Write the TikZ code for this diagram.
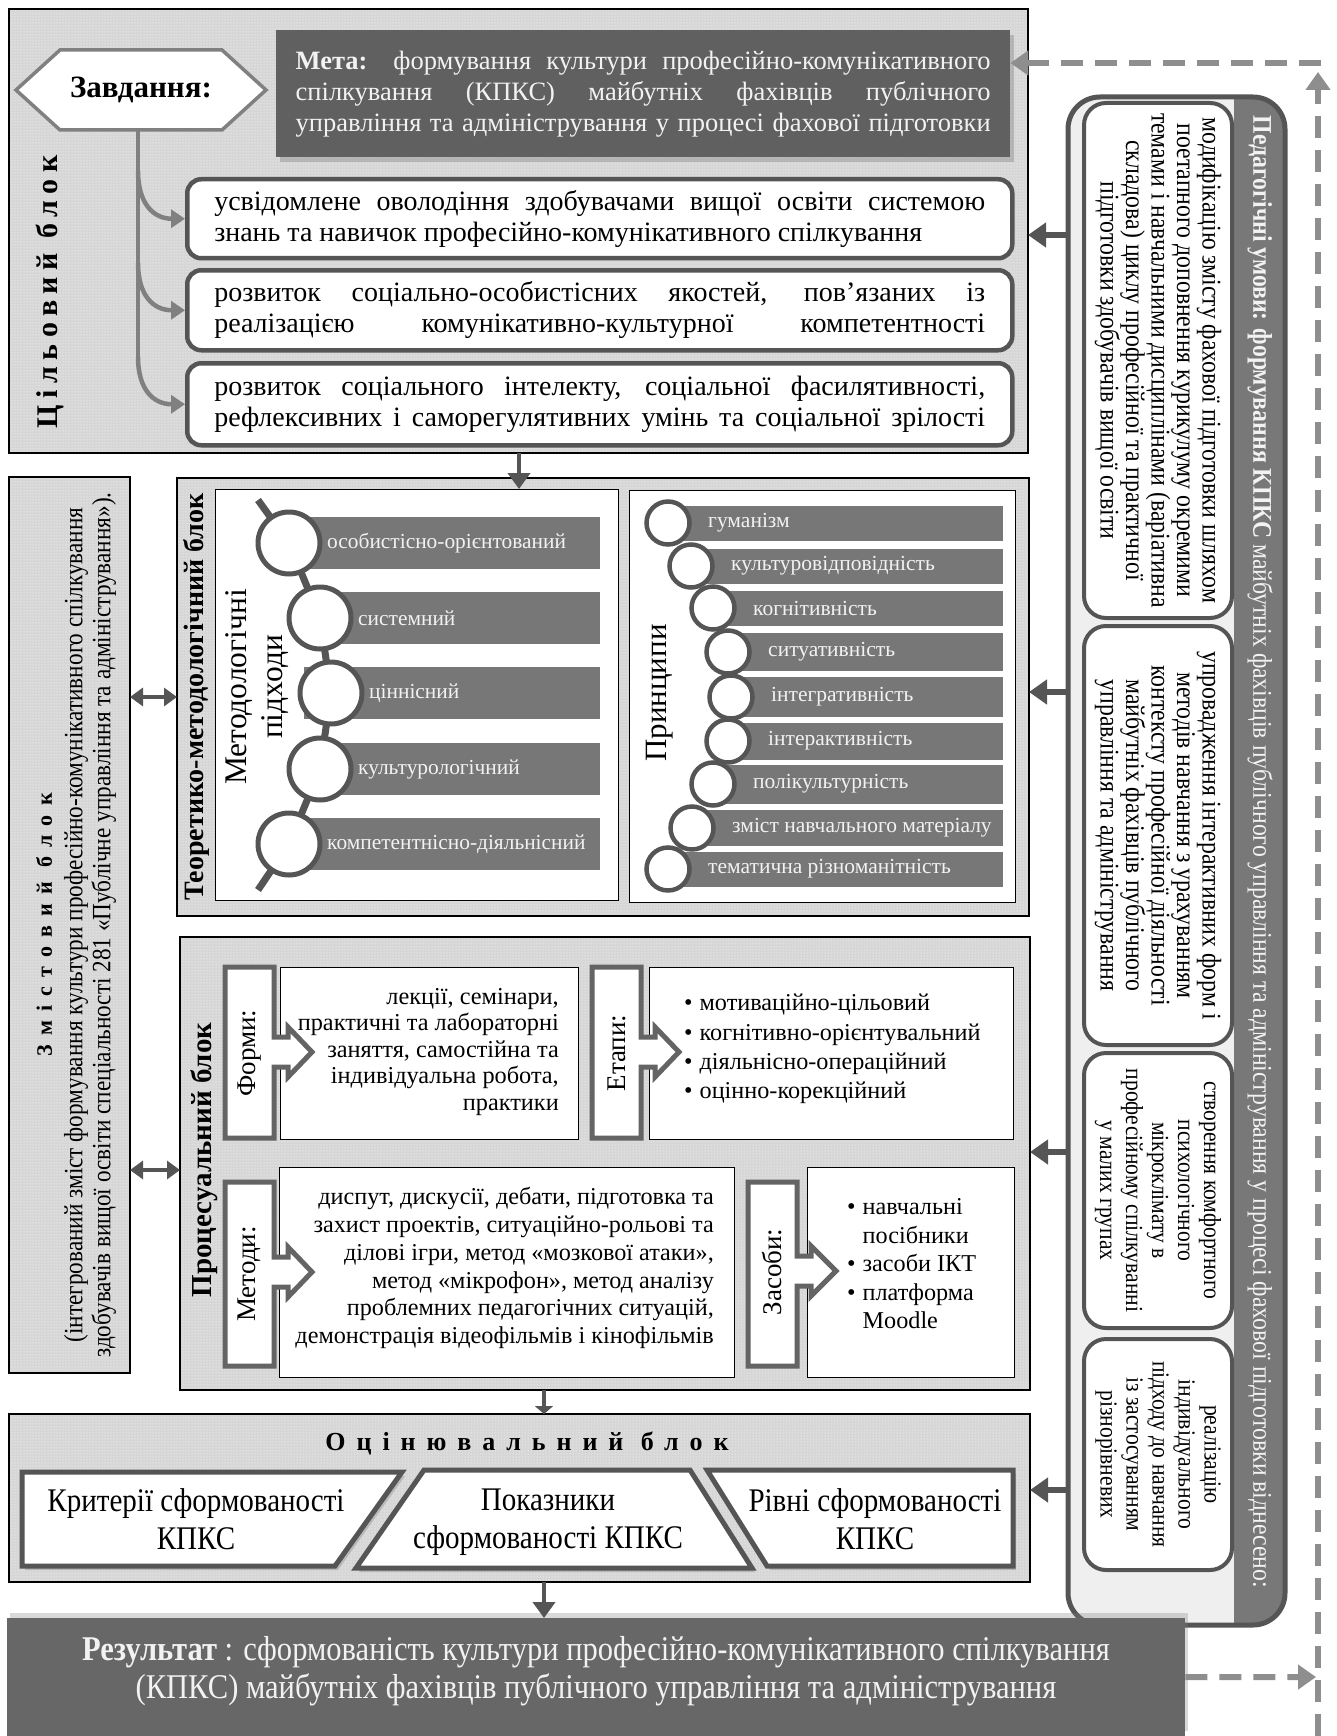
\documentclass[tikz,border=0pt]{standalone}
\usepackage{fontspec}
\setmainfont{Liberation Serif}
\newfontfamily\condfont{Liberation Serif}[FakeStretch=0.88]
\usetikzlibrary{arrows.meta,patterns,shadows}
\definecolor{bggray}{HTML}{D6D6D6}
\definecolor{darkbox}{HTML}{606060}
\definecolor{rezbox}{HTML}{676767}
\definecolor{edgeg}{HTML}{555555}
\definecolor{treeg}{HTML}{808080}
\definecolor{barg}{HTML}{777777}
\definecolor{dashg}{HTML}{8E8E8E}
\definecolor{lighttext}{HTML}{F2F2F2}
\definecolor{panelbg}{HTML}{EFEFEF}
\definecolor{stripg}{HTML}{787878}
\definecolor{labedge}{HTML}{646464}
\newcommand{\myfs}[2]{\fontsize{#1}{#2}\selectfont}
\newcommand{\jl}[2]{\makebox[#1][s]{#2}}
\begin{document}
\begin{tikzpicture}[x=1pt,y=-1pt,
 blk/.style={draw=black,line width=1.3pt,preaction={fill=bggray},pattern=dots,pattern color=white,anchor=north west,inner sep=0pt,outer sep=0pt},
 rbox/.style={draw=edgeg,line width=4.5pt,fill=white,rounded corners=14pt,anchor=north west,inner sep=0pt},
 thinbox/.style={draw=black,line width=1.2pt,fill=white,anchor=north west,inner sep=0pt},
 pbox/.style={draw=edgeg,line width=4pt,fill=white,rounded corners=22pt,anchor=north west,inner sep=0pt},
 tree/.style={draw=treeg,line width=4.5pt,-{Triangle[length=14pt,width=18pt]}},
 darr/.style={draw=edgeg,line width=4pt,-{Triangle[length=16pt,width=22pt]}},
 parr/.style={draw=edgeg,line width=6pt,-{Triangle[length=18pt,width=24pt]}},
 dbl/.style={draw=edgeg,line width=4pt,{Triangle[length=13pt,width=18pt]}-{Triangle[length=13pt,width=18pt]}},
 dsh/.style={draw=dashg,line width=6pt,dash pattern=on 22pt off 12pt,-{Triangle[length=18pt,width=24pt]}},
 lab/.style={draw=labedge,line width=5pt,fill=white},
 shp/.style={draw=edgeg,line width=5pt,fill=white,drop shadow={shadow xshift=3pt,shadow yshift=-4pt,opacity=0.35}},
 vlab/.style={rotate=90,inner sep=0pt,font=\bfseries\myfs{26}{30}},
 txt/.style={inner sep=0pt},
]
\useasboundingbox (0,0) rectangle (1336,1736);

% ---------- pedagogical conditions panel ----------
\node[anchor=north west,minimum width=217pt,minimum height=1528pt,inner sep=0pt,fill=panelbg,rounded corners=32pt] (panel) at (1068,97) {};
\begin{scope}
\clip[rounded corners=32pt] (1068,97) rectangle (1285,1625);
\fill[stripg] (1234,97) rectangle (1285,1625);
\end{scope}
\draw[edgeg,line width=5pt,rounded corners=32pt] (1068,97) rectangle (1285,1625);
\node[pbox,minimum width=148pt,minimum height=515pt] (pb1) at (1082,101) {};
\node[pbox,minimum width=148pt,minimum height=419pt] (pb2) at (1082,624) {};
\node[pbox,minimum width=148pt,minimum height=275pt] (pb3) at (1082,1051) {};
\node[pbox,minimum width=148pt,minimum height=231pt] (pb4) at (1082,1337) {};
\node[txt,rotate=-90,align=center,font=\condfont\myfs{27}{25.5}] (pt1) at (pb1.center) {модифікацію змісту фахової підготовки шляхом\\поетапного доповнення курикулуму окремими\\темами і навчальними дисциплінами (варіативна\\складова) циклу професійної та практичної\\підготовки здобувачів вищої освіти};
\node[txt,rotate=-90,align=center,font=\condfont\myfs{27}{25.5}] (pt2) at (pb2.center) {упровадження інтерактивних форм і\\методів навчання з урахуванням\\контексту професійної діяльності\\майбутніх фахівців публічного\\управління та адміністрування};
\node[txt,rotate=-90,align=center,font=\condfont\myfs{24.5}{26}] (pt3) at (pb3.center) {створення комфортного\\психологічного\\мікроклімату в\\професійному спілкуванні\\у малих групах};
\node[txt,rotate=-90,align=center,font=\condfont\myfs{24.5}{26}] (pt4) at (pb4.center) {реалізацію\\індивідуального\\підходу до навчання\\із застосуванням\\різнорівневих};
\node[txt,rotate=-90,text=lighttext,font=\condfont\myfs{27}{30}] (strip) at (1260,852) {\textbf{Педагогічні умови: формування КПКС} майбутніх фахівців публічного управління та адміністрування у процесі фахової підготовки віднесено:};

% ---------- goal block ----------
\node[blk,minimum width=1019pt,minimum height=444pt] (tsil) at (9,9) {};
\node[vlab,font=\bfseries\myfs{30}{32}\addfontfeature{LetterSpace=22}] (tsilL) at (50,292) {Цільовий блок};
\node[anchor=north west,minimum width=734pt,minimum height=127pt,inner sep=0pt,fill=darkbox,drop shadow={shadow xshift=4pt,shadow yshift=-5pt,opacity=0.4}] (meta) at (276,30) {};
\node[txt,align=center,text=lighttext,font=\myfs{26.5}{31}] (metaT) at (meta.center) {\jl{695pt}{\textbf{Мета:} формування культури професійно-комунікативного}\\\jl{695pt}{спілкування (КПКС) майбутніх фахівців публічного}\\\jl{695pt}{управління та адміністрування у процесі фахової підготовки}};
\draw[treeg,line width=3.5pt,fill=white] (16,90) -- (60,50) -- (222,50) -- (266,90) -- (222,130) -- (60,130) -- cycle;
\node[txt,font=\bfseries\myfs{31}{34}] (hexT) at (141,90) {Завдання:};
\coordinate (hexbot) at (138,130);
\node[rbox,minimum width=825pt,minimum height=79pt] (b1) at (185,177) {};
\node[rbox,minimum width=825pt,minimum height=80pt] (b2) at (185,268) {};
\node[rbox,minimum width=825pt,minimum height=82pt] (b3) at (185,361) {};
\node[txt,align=center,font=\myfs{28}{31}] (b1T) at (b1.center) {\jl{771pt}{усвідомлене оволодіння здобувачами вищої освіти системою}\\\makebox[771pt][l]{знань та навичок професійно-комунікативного спілкування}};
\node[txt,align=center,font=\myfs{28}{31}] (b2T) at (b2.center) {\jl{771pt}{розвиток соціально-особистісних якостей, пов’язаних із}\\\jl{771pt}{реалізацією комунікативно-культурної компетентності}};
\node[txt,align=center,font=\myfs{28}{31}] (b3T) at (b3.center) {\jl{771pt}{розвиток соціального інтелекту, соціальної фасилятивності,}\\\jl{771pt}{рефлексивних і саморегулятивних умінь та соціальної зрілості}};
\coordinate (k1) at (138,171);
\coordinate (k2) at (138,263);
\coordinate (k3) at (138,357);
\draw[treeg,line width=4.5pt] (hexbot) -- (k3);
\draw[tree] (k1) .. controls +(0,32) and +(-32,0) .. (b1.west);
\draw[tree] (k2) .. controls +(0,32) and +(-32,0) .. (b2.west);
\draw[tree] (k3) .. controls +(0,32) and +(-32,0) .. (b3.west);

% ---------- content block ----------
\node[blk,minimum width=121pt,minimum height=896pt] (zmist) at (9,477) {};
\node[vlab,font=\bfseries\myfs{22}{26}\addfontfeature{LetterSpace=42}] (zmistL) at (44,925) {Змістовий блок};
\node[txt,rotate=90,align=center,font=\condfont\myfs{26.4}{28}] (zmistT) at (90,925) {(інтегрований зміст формування культури професійно-комунікативного спілкування\\здобувачів вищої освіти спеціальності 281 «Публічне управління та адміністрування»).};

% ---------- theoretical-methodological block ----------
\node[blk,minimum width=852pt,minimum height=438pt] (teo) at (177,478) {};
\node[vlab,font=\bfseries\myfs{28}{30}] (teoL) at (196,697) {Теоретико-методологічний блок};
\node[thinbox,minimum width=403pt,minimum height=411pt] (lb) at (215,489) {};
\node[thinbox,minimum width=386pt,minimum height=412pt] (rb) at (629,490) {};
\node[txt,rotate=90,align=center,font=\myfs{31.5}{36}] (lbL) at (257,687) {Методологічні\\підходи};
\node[txt,rotate=90,font=\myfs{31}{34}] (rbL) at (660,693) {Принципи};
\foreach \i/\cy in {1/543,2/618,3/693,4/769,5/844}
  \node[fill=barg,anchor=west,minimum width=296pt,minimum height=52pt,inner sep=0pt] (lbar\i) at (304,\cy) {};
\coordinate (cc0) at (258,500);
\coordinate (cc1) at (289,543);
\coordinate (cc2) at (320,618);
\coordinate (cc3) at (331,693);
\coordinate (cc4) at (320,769);
\coordinate (cc5) at (289,844);
\coordinate (cc6) at (258,890);
\draw[edgeg,line width=7pt] (cc0) -- (cc1) -- (cc2) -- (cc3) -- (cc4) -- (cc5) -- (cc6);
\foreach \i/\t in {1/особистісно-орієнтований,2/системний,3/ціннісний,4/культурологічний,5/компетентнісно-діяльнісний}{
  \node[circle,draw=edgeg,line width=5pt,fill=white,minimum size=62pt,inner sep=0pt] (lc\i) at (cc\i) {};
  \node[txt,anchor=west,text=lighttext,font=\myfs{21.4}{24}] (lt\i) at ([xshift=38pt]cc\i) {\t};
}
\foreach \i/\cx/\cy/\h/\t in {1/668/523/35/гуманізм,2/691/566/35/культуровідповідність,3/713/608/35/когнітивність,4/728/652/38/ситуативність,5/731/697/40/інтегративність,6/728/741/37/інтерактивність,7/713/784/39/полікультурність,8/692/828/36/зміст навчального матеріалу,9/668/869/35/тематична різноманітність}{
  \node[fill=barg,anchor=west,minimum width={1003-\cx},minimum height=\h,inner sep=0pt] (rbar\i) at (\cx,\cy) {};
  \node[circle,draw=edgeg,line width=4.5pt,fill=white,minimum size=43pt,inner sep=0pt] (rc\i) at (\cx,\cy) {};
  \node[txt,anchor=west,text=lighttext,font=\myfs{21.5}{24}] (rt\i) at (\cx+40,\cy) {\t};
}

% ---------- procedural block ----------
\node[blk,minimum width=850pt,minimum height=453pt] (proc) at (180,937) {};
\node[vlab,font=\bfseries\myfs{29}{32}] (procL) at (204,1160) {Процесуальний блок};
\node[thinbox,minimum width=298pt,minimum height=172pt] (ft) at (280,967) {};
\node[thinbox,minimum width=364pt,minimum height=172pt] (et) at (649,967) {};
\node[thinbox,minimum width=455pt,minimum height=210pt] (mt) at (279,1167) {};
\node[thinbox,minimum width=207pt,minimum height=210pt] (zt) at (807,1167) {};
\draw[lab] (225,967) -- (274,967) -- (274,1037) -- (288,1037) -- (288,1027) -- (312,1052) -- (288,1077) -- (288,1067) -- (274,1067) -- (274,1138) -- (225,1138) -- cycle;
\draw[lab] (592,967) -- (641,967) -- (641,1037) -- (655,1037) -- (655,1027) -- (679,1052) -- (655,1077) -- (655,1067) -- (641,1067) -- (641,1138) -- (592,1138) -- cycle;
\draw[lab] (225,1182) -- (274,1182) -- (274,1257) -- (288,1257) -- (288,1247) -- (312,1272) -- (288,1297) -- (288,1287) -- (274,1287) -- (274,1366) -- (225,1366) -- cycle;
\draw[lab] (748,1182) -- (797,1182) -- (797,1256) -- (811,1256) -- (811,1246) -- (836,1271) -- (811,1296) -- (811,1286) -- (797,1286) -- (797,1366) -- (748,1366) -- cycle;
\node[txt,rotate=90,font=\myfs{27}{30}] (ftL) at (249.5,1053) {Форми:};
\node[txt,rotate=90,font=\myfs{27}{30}] (etL) at (616.5,1053) {Етапи:};
\node[txt,rotate=90,font=\myfs{27}{30}] (mtL) at (249.5,1274) {Методи:};
\node[txt,rotate=90,font=\myfs{27}{30}] (ztL) at (772.5,1272) {Засоби:};
\node[txt,anchor=east,align=right,font=\myfs{24.3}{26.5}] (ftT) at (559,1052) {лекції, семінари,\\практичні та лабораторні\\заняття, самостійна та\\індивідуальна робота,\\практики};
\node[txt,anchor=west,align=left,font=\myfs{24.2}{29.3}] (etT) at (684,1049) {•\hspace{7pt}мотиваційно-цільовий\\•\hspace{7pt}когнітивно-орієнтувальний\\•\hspace{7pt}діяльнісно-операційний\\•\hspace{7pt}оцінно-корекційний};
\node[txt,anchor=east,align=right,font=\myfs{24.2}{27.8}] (mtT) at (714,1268) {диспут, дискусії, дебати, підготовка та\\захист проектів, ситуаційно-рольові та\\ділові ігри, метод «мозкової атаки»,\\метод «мікрофон», метод аналізу\\проблемних педагогічних ситуацій,\\демонстрація відеофільмів і кінофільмів};
\node[txt,anchor=west,align=left,font=\myfs{24.2}{28.5}] (ztT) at (847,1264) {•\hspace{7pt}навчальні\\\phantom{•}\hspace{7pt}посібники\\•\hspace{7pt}засоби ІКТ\\•\hspace{7pt}платформа\\\phantom{•}\hspace{7pt}Moodle};

% ---------- evaluation block ----------
\node[blk,minimum width=1021pt,minimum height=168pt] (otsin) at (9,1414) {};
\node[txt,font=\bfseries\myfs{26}{30}\addfontfeature{LetterSpace=42}] (otsinL) at (527,1443) {Оцінювальний блок};
\draw[shp] (22,1472) -- (402,1472) -- (335,1566) -- (22,1566) -- cycle;
\draw[shp] (424,1470) -- (690,1470) -- (752,1568) -- (356,1568) -- cycle;
\draw[shp] (707,1470) -- (1013,1470) -- (1013,1566) -- (767,1566) -- cycle;
\node[txt,align=center,font=\condfont\myfs{33}{38}] (o1) at (196,1519) {Критерії сформованості\\КПКС};
\node[txt,align=center,font=\condfont\myfs{33}{38}] (o2) at (548,1522) {Показники\\сформованості КПКС};
\node[txt,align=center,font=\condfont\myfs{33}{38}] (o3) at (875,1519) {Рівні сформованості\\КПКС};

% ---------- result ----------
\node[anchor=north west,minimum width=1178pt,minimum height=118pt,inner sep=0pt,fill=rezbox,drop shadow={shadow xshift=3pt,shadow yshift=5pt,opacity=0.3}] (rez) at (7,1618) {};
\node[txt,align=center,text=lighttext,font=\condfont\myfs{34.7}{38}] (rezT) at (596,1671) {\textbf{Результат} : сформованість культури професійно-комунікативного спілкування\\(КПКС) майбутніх фахівців публічного управління та адміністрування};

% ---------- connectors ----------
\coordinate (xa) at (519,0);
\coordinate (xb) at (544,0);
\draw[darr] (tsil.south -| xa) -- (lb.north -| xa);
\draw[edgeg,line width=4pt,-{Triangle[length=8pt,width=18pt]}] (proc.south -| xb) -- (otsin.north -| xb);
\draw[darr] (otsin.south -| xb) -- (rez.north -| xb);
\coordinate (da1) at (0,697);
\coordinate (da2) at (0,1170);
\draw[dbl] (zmist.east |- da1) -- (teo.west |- da1);
\draw[dbl] (zmist.east |- da2) -- (proc.west |- da2);
\coordinate (pa1) at (1068,235);
\coordinate (pa2) at (1068,692);
\coordinate (pa3) at (1068,1152);
\coordinate (pa4) at (1068,1490);
\draw[parr] (pa1) -- (tsil.east |- pa1);
\draw[parr] (pa2) -- (teo.east |- pa2);
\draw[parr] (pa3) -- (proc.east |- pa3);
\draw[parr] (pa4) -- (otsin.east |- pa4);
\coordinate (dbot) at (1318,1736);
\coordinate (dtop) at (1318,72);
\coordinate (dcorner) at (1321,63);
\coordinate (dright) at (1316,1677);
\draw[dsh] (rez.east) -- (dright);
\draw[dsh] (dbot) -- (dtop);
\draw[dsh] (dcorner) -- (meta.east |- dcorner);
\end{tikzpicture}
\end{document}
